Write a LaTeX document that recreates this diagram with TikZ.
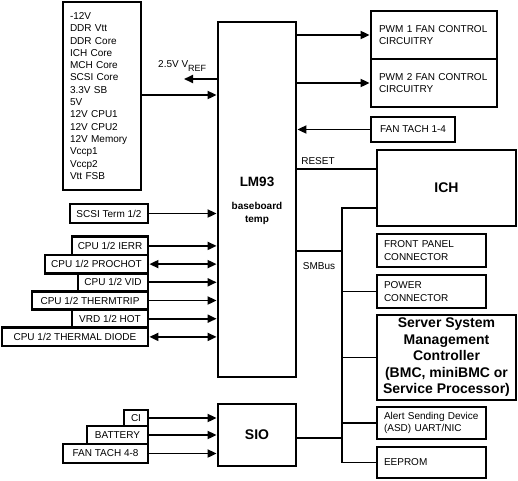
\documentclass[tikz,border=0pt]{standalone}
\usepackage{fontspec}
\setmainfont{Liberation Sans}
\usetikzlibrary{arrows.meta}
\begin{document}
\begin{tikzpicture}[x=1pt,y=-1pt,
  box/.style={draw, line width=2.8pt, inner sep=0pt, font=\fontsize{10}{12.8}\selectfont},
  conn/.style={line width=1.8pt},
  arr/.style={conn, -{Triangle[length=9pt,width=8pt]}},
  darr/.style={conn, {Triangle[length=9pt,width=8pt]}-{Triangle[length=9pt,width=8pt]}},
  big/.style={font=\bfseries\fontsize{14}{16.5}\selectfont},
  lbl/.style={inner sep=0pt, font=\fontsize{10}{12}\selectfont}
]
\useasboundingbox (0,0) rectangle (518,480);

% voltage list and LM93
\node[box, minimum width=78pt, minimum height=188pt, text width=64pt, align=left,
      font=\fontsize{10}{12.3}\selectfont] (volt) at (102,96)
  {-12V\\DDR Vtt\\DDR Core\\ICH Core\\MCH Core\\SCSI Core\\3.3V SB\\5V\\12V CPU1\\12V CPU2\\12V Memory\\Vccp1\\Vccp2\\Vtt FSB};
\node[box, minimum width=78pt, minimum height=355pt] (lm93) at (257,199.5) {};
\node[inner sep=0pt, font=\bfseries\fontsize{13.5}{15}\selectfont] (lm93t) at (257,182) {LM93};
\node[inner sep=0pt, align=center, font=\bfseries\fontsize{10}{13}\selectfont] (lm93s) at (257,213.5) {baseboard\\temp};

% right side boxes
\node[box, minimum width=126pt, minimum height=48pt, text width=110pt, align=left] (pwm1) at (434,35) {PWM 1 FAN CONTROL\\CIRCUITRY};
\node[box, minimum width=126pt, minimum height=48pt, text width=110pt, align=left] (pwm2) at (434,83) {PWM 2 FAN CONTROL\\CIRCUITRY};
\node[box, minimum width=84pt, minimum height=25pt] (tach14) at (413,129.5) {FAN TACH 1-4};
\node[box, big, minimum width=139pt, minimum height=76pt] (ich) at (446.5,188) {ICH};
\node[box, minimum width=109pt, minimum height=33pt, text width=95pt, align=left] (front) at (431.5,250.5) {FRONT PANEL\\CONNECTOR};
\node[box, minimum width=109pt, minimum height=33pt, text width=95pt, align=left] (power) at (431.5,291.5) {POWER\\CONNECTOR};
\node[box, big, minimum width=139pt, minimum height=85pt, align=center] (ssmc) at (446.5,357.5) {Server System\\Management\\Controller\\(BMC, miniBMC or\\Service Processor)};
\node[box, minimum width=109pt, minimum height=32pt, text width=95pt, align=left] (alert) at (431.5,423) {Alert Sending Device\\(ASD) UART/NIC};
\node[box, minimum width=109pt, minimum height=31pt, text width=95pt, align=left] (eeprom) at (431.5,462.5) {EEPROM};
\node[box, big, minimum width=78pt, minimum height=62pt] (sio) at (257,435) {SIO};

% left boxes
\node[box, minimum width=78pt, minimum height=19pt] (scsi) at (109,213.5) {SCSI Term 1/2};
\node[box, minimum width=76pt, minimum height=18.2pt] (ierr) at (110,245.9) {CPU 1/2 IERR};
\node[box, minimum width=103pt, minimum height=18.2pt] (prochot) at (96.5,264.1) {CPU 1/2 PROCHOT};
\node[box, minimum width=70pt, minimum height=18.2pt] (vid) at (113,282.3) {CPU 1/2 VID};
\node[box, minimum width=116pt, minimum height=18.2pt] (thermtrip) at (90,300.5) {CPU 1/2 THERMTRIP};
\node[box, minimum width=76pt, minimum height=18.2pt] (vrd) at (110,318.7) {VRD 1/2 HOT};
\node[box, minimum width=146pt, minimum height=18.2pt] (diode) at (75,336.9) {CPU 1/2 THERMAL DIODE};

\node[box, minimum width=24pt, minimum height=16pt] (ci) at (136,418) {CI};
\node[box, minimum width=61pt, minimum height=18pt] (battery) at (117.5,435) {BATTERY};
\node[box, minimum width=85pt, minimum height=19pt] (tach48) at (105.5,453.5) {FAN TACH 4-8};

% labels
\node[lbl, anchor=base west] (vreflbl) at (158,67) {2.5V V\raisebox{-4pt}{\fontsize{9}{10}\selectfont REF}};
\node[lbl] (rstlbl) at (318,161) {RESET};
\node[lbl] (smblbl) at (319,266) {SMBus};

% coordinates
\coordinate (vref) at (184,79);
\coordinate (vin) at (150,95);
\coordinate (bt) at (342,208);
\coordinate (smb) at (342,251);
\coordinate (rst) at (342,169);
\coordinate (sioj) at (342,438);

% LM93 connections
\draw[arr] (vref -| lm93.west) -- (vref);
\draw[arr] (vin -| volt.east) -- (vin -| lm93.west);
\draw[arr] (lm93.east |- pwm1.west) -- (pwm1.west);
\draw[arr] (lm93.east |- pwm2.west) -- (pwm2.west);
\draw[arr] (tach14.west) -- (tach14.west -| lm93.east);
\draw[conn] (rst -| lm93.east) -- (rst -| ich.west);
\draw[conn] (smb -| lm93.east) -- (smb);

% bus
\draw[conn] (bt -| ich.west) -- (bt) -- (bt |- eeprom.west) -- (eeprom.west);
\draw[conn] (bt |- power.west) -- (power.west);
\draw[conn] (bt |- ssmc.west) -- (ssmc.west);
\draw[conn] (bt |- alert.west) -- (alert.west);
\draw[conn] (sioj -| sio.east) -- (sioj);

% left connections
\draw[arr] (scsi.east) -- (scsi.east -| lm93.west);
\draw[arr] (ierr.east) -- (ierr.east -| lm93.west);
\draw[darr] (prochot.east) -- (prochot.east -| lm93.west);
\draw[arr] (vid.east) -- (vid.east -| lm93.west);
\draw[arr] (thermtrip.east) -- (thermtrip.east -| lm93.west);
\draw[arr] (vrd.east) -- (vrd.east -| lm93.west);
\draw[darr] (diode.east) -- (diode.east -| lm93.west);

\draw[arr] (ci.east) -- (ci.east -| sio.west);
\draw[arr] (battery.east) -- (battery.east -| sio.west);
\draw[arr] (tach48.east) -- (tach48.east -| sio.west);
\end{tikzpicture}
\end{document}
